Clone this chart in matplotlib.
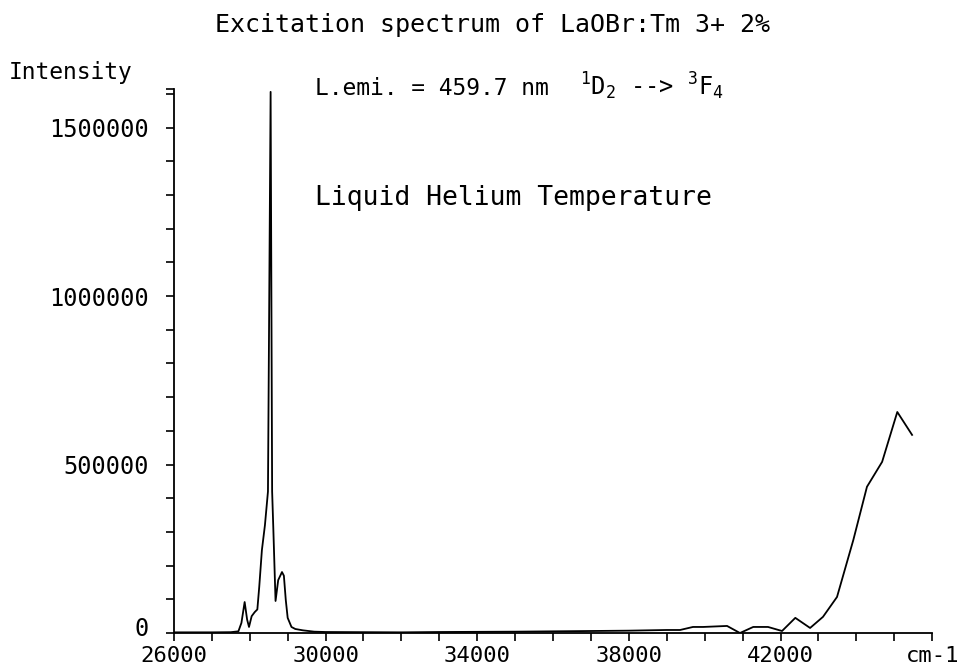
import numpy as np
import matplotlib.pyplot as plt
from matplotlib.ticker import MultipleLocator, FixedLocator
from matplotlib.transforms import ScaledTranslation

plt.rcParams['font.family'] = ['DejaVu Sans Mono']
plt.rcParams['mathtext.fontset'] = 'custom'
plt.rcParams['mathtext.rm'] = 'DejaVu Sans Mono'
plt.rcParams['mathtext.it'] = 'DejaVu Sans Mono'

# wavenumber (cm-1) and intensity
wavenumber = [26000, 26500, 27000, 27500, 27700, 27780, 27865, 27930, 27980,
              28050, 28130, 28200, 28250, 28320, 28400, 28480, 28550, 28590,
              28620, 28680, 28750, 28850, 28900, 28950, 29000, 29100, 29200,
              29400, 29700, 30000, 31000, 32000, 33000, 34000, 35000, 36000,
              37000, 38000, 38500, 39000, 39350, 39690, 39960, 40590, 40930,
              41280, 41670, 42040, 42390, 42780, 43120, 43490, 43920, 44280,
              44680, 45080, 45470]
intensity = [2000, 2000, 2000, 2500, 5000, 30000, 92000, 40000, 18000,
             50000, 62000, 70000, 137000, 246000, 320000, 420000, 1606000, 420000,
             315000, 95000, 157000, 181000, 170000, 98000, 45000, 18000, 12000,
             8000, 4000, 3000, 2500, 2000, 3000, 3500, 4000, 5000,
             6000, 7000, 8000, 9000, 9000, 18000, 18000, 21000, 0,
             18000, 18000, 6000, 45000, 15000, 48000, 107000, 276000, 434000,
             508000, 656000, 588000]

xticks = [26000, 30000, 34000, 38000, 42000, 46000]
xtick_labels = ['26000', '30000', '34000', '38000', '42000', 'cm-1']
yticks = [0, 500000, 1000000, 1500000]
ytick_labels = ['0', '500000', '1000000', '1500000']

fig = plt.figure(figsize=(9.61, 6.71), dpi=100)
ax = fig.add_axes([0.181, 0.0566, 0.789, 0.811])

ax.plot(wavenumber, intensity, color='black', lw=1.3)

ax.set_xlim(26000, 46000)
ax.set_ylim(0, 1615000)
ax.spines['top'].set_visible(False)
ax.spines['right'].set_visible(False)
ax.spines['left'].set_linewidth(1.3)
ax.spines['bottom'].set_linewidth(1.3)

ax.xaxis.set_major_locator(FixedLocator(xticks))
ax.set_xticklabels(xtick_labels)
ax.xaxis.set_minor_locator(MultipleLocator(1000))
ax.yaxis.set_major_locator(FixedLocator(yticks + [1615000]))
ax.set_yticklabels(ytick_labels + [''])
ax.yaxis.set_minor_locator(MultipleLocator(100000))

ax.tick_params(which='both', direction='out', length=6, width=1.2,
               labelsize=17)
ax.tick_params(axis='y', pad=12)
ax.tick_params(axis='x', pad=3, labelsize=16)

# nudge the "0" label up so it clears the x labels
zero = ax.get_yticklabels()[0]
zero.set_transform(zero.get_transform() + ScaledTranslation(0, 5 / 72, fig.dpi_scale_trans))

fig.text(0.073, 0.892, 'Intensity', fontsize=16.5, ha='center', va='center')
fig.text(0.513, 0.962, 'Excitation spectrum of LaOBr:Tm 3+ 2%', fontsize=18,
         ha='center', va='center')
fig.text(0.328, 0.868, 'L.emi. = 459.7 nm', fontsize=16.5, ha='left', va='center')
fig.text(0.604, 0.872, r'$^1$D$_2$ --> $^3$F$_4$', fontsize=17,
         ha='left', va='center')
fig.text(0.328, 0.705, 'Liquid Helium Temperature', fontsize=19,
         ha='left', va='center')

fig.savefig('out.png', dpi=100)
